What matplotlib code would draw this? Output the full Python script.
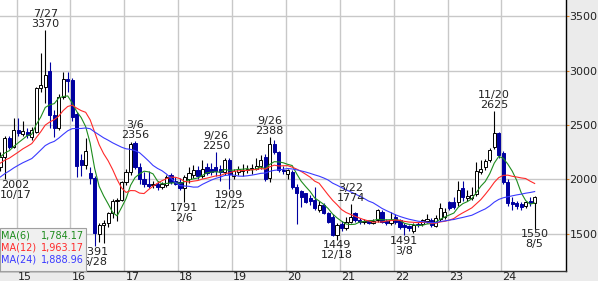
import numpy as np
import pandas as pd
import matplotlib
matplotlib.use("Agg")
import matplotlib.pyplot as plt
from matplotlib.patches import Rectangle
import matplotlib.transforms as mtransforms

# monthly candles, Sep 2014 .. Aug 2024
months = pd.period_range("2014-09", "2024-08", freq="M")

opens = [2110, 2210, 2378, 2301,
         2454, 2420, 2440, 2393, 2440, 2837, 2851, 2998, 2590, 2470, 2760, 2920,
         2910, 2600, 2180, 2133, 2060, 2013, 1500, 1580, 1600, 1690, 1800, 1812,
         1975, 2072, 2335, 2118, 2000, 1960, 1945, 1960, 1935, 1950, 2040, 1990,
         1980, 1920, 2000, 2040, 2090, 2030, 2110, 2100, 2110, 2100, 2070, 2180,
         2030, 2070, 2080, 2090, 2095, 2100, 2120, 2210, 2010, 2330, 2250, 2090,
         2050, 2070, 1935, 1890, 1873, 1830, 1812, 1720, 1766, 1690, 1660, 1492,
         1590, 1555, 1614, 1690, 1630, 1610, 1620, 1605, 1630, 1700, 1620, 1600,
         1660, 1630, 1584, 1570, 1525, 1590, 1590, 1620, 1630, 1575, 1640, 1660,
         1790, 1790, 1790, 1920, 1830, 1830, 1870, 2070, 2110, 2180, 2296, 2430,
         2240, 1980, 1790, 1785, 1775, 1755, 1800, 1781]
highs = [2250, 2400, 2400, 2561,
         2561, 2540, 2470, 2480, 2850, 3158, 3370, 3081, 2640, 2780, 2990, 2990,
         2930, 2620, 2230, 2380, 2110, 2030, 1600, 1630, 1700, 1820, 1830, 1990,
         2100, 2340, 2356, 2150, 2072, 2080, 1990, 1990, 1980, 2040, 2060, 2020,
         2010, 2040, 2110, 2130, 2120, 2180, 2150, 2150, 2250, 2130, 2200, 2200,
         2100, 2120, 2140, 2130, 2140, 2194, 2225, 2230, 2388, 2360, 2260, 2120,
         2100, 2090, 1960, 1904, 1880, 1860, 1935, 1800, 1780, 1700, 1680, 1600,
         1620, 1660, 1774, 1700, 1650, 1640, 1630, 1640, 1730, 1720, 1640, 1700,
         1680, 1640, 1600, 1580, 1600, 1610, 1640, 1680, 1650, 1670, 1780, 1740,
         1800, 1840, 1990, 1990, 1900, 1930, 2164, 2180, 2190, 2290, 2625, 2440,
         2260, 2000, 1840, 1800, 1790, 1800, 1840, 1850]
lows = [2080, 2002, 2280, 2290,
        2400, 2400, 2380, 2360, 2430, 2800, 2700, 2470, 2390, 2450, 2740, 2800,
        2540, 2020, 2030, 2100, 1960, 1391, 1430, 1415, 1560, 1650, 1620, 1800,
        1950, 2040, 2100, 1960, 1930, 1920, 1920, 1900, 1910, 1930, 1960, 1950,
        1900, 1791, 1970, 2010, 2000, 2010, 2040, 2040, 2030, 1990, 2040, 1909,
        2000, 2040, 2030, 2060, 2050, 2090, 2100, 1990, 1980, 2230, 2070, 2050,
        2000, 1910, 1590, 1750, 1780, 1770, 1720, 1700, 1680, 1600, 1480, 1449,
        1530, 1540, 1600, 1610, 1590, 1595, 1590, 1590, 1610, 1600, 1580, 1580,
        1590, 1550, 1491, 1530, 1510, 1560, 1570, 1600, 1560, 1560, 1620, 1640,
        1720, 1730, 1760, 1800, 1800, 1810, 1850, 2050, 2090, 2160, 2280, 2200,
        1960, 1760, 1720, 1730, 1720, 1740, 1760, 1550]
closes = [2210, 2378, 2301, 2454,
          2430, 2445, 2408, 2450, 2837, 2867, 2959, 2592, 2470, 2760, 2920, 2900,
          2570, 2124, 2133, 2264, 2010, 1509, 1583, 1600, 1690, 1800, 1812, 1975,
          2072, 2330, 2118, 2000, 1960, 1940, 1960, 1935, 1960, 2026, 1980, 1960,
          1919, 2026, 2060, 2090, 2030, 2100, 2060, 2065, 2075, 2070, 2180, 2050,
          2075, 2100, 2090, 2100, 2105, 2120, 2175, 2000, 2330, 2250, 2090, 2075,
          2087, 1935, 1873, 1843, 1797, 1800, 1735, 1766, 1690, 1614, 1492, 1584,
          1555, 1614, 1660, 1630, 1610, 1620, 1605, 1615, 1720, 1614, 1600, 1630,
          1614, 1568, 1560, 1555, 1584, 1580, 1630, 1640, 1580, 1645, 1740, 1700,
          1740, 1745, 1904, 1840, 1850, 1858, 2080, 2095, 2166, 2271, 2430, 2225,
          1980, 1781, 1775, 1760, 1750, 1790, 1787, 1843]
# closes before the first visible month (only feed the moving averages)
warmup_closes = [1650, 1700, 1780, 1850, 1900, 1950, 1980, 1920, 1900, 1985,
                 2040, 2097, 2050, 2080, 2120, 2100, 2090, 2124, 2150, 2180,
                 2220, 2226, 2250]

ma_periods = [6, 12, 24]
ma_colors = ["#1e8c1e", "#ff2a2a", "#3a3aff"]

# high / low call-outs: month, date text, kind
ann_months = ["2014-10", "2015-07", "2016-06", "2017-03", "2018-02", "2018-09",
              "2018-12", "2019-09", "2020-12", "2021-03", "2022-03", "2023-11",
              "2024-08"]
ann_dates = ["10/17", "7/27", "6/28", "3/6", "2/6", "9/26",
             "12/25", "9/26", "12/18", "3/22", "3/8", "11/20", "8/5"]
ann_kind = ["low", "high", "low", "high", "low", "high",
            "low", "high", "low", "high", "low", "high", "low"]

years = ["15", "16", "17", "18", "19", "20", "21", "22", "23", "24"]
yticks = [1500, 2000, 2500, 3000, 3500]

# ---------------------------------------------------------------------------
o = np.array(opens); h = np.array(highs); l = np.array(lows); c = np.array(closes)
x = np.arange(len(months)) - 4          # 0 = Jan 2015
up = c >= o
down_col = "#0000a0"

fig = plt.figure(figsize=(5.98, 2.81), dpi=100, facecolor="#ebebeb")
ax = fig.add_axes([0, 10 / 281, 566 / 598, 271 / 281])
ax.set_facecolor("white")

# wicks
ax.vlines(x[up], l[up], h[up], color="black", lw=0.8, zorder=2)
ax.vlines(x[~up], l[~up], h[~up], color=down_col, lw=0.8, zorder=2)
# bodies
body_lo = np.minimum(o, c)
body_h = np.abs(c - o)
ax.bar(x[up], body_h[up], bottom=body_lo[up], width=0.72, color="white",
       edgecolor="black", linewidth=0.7, zorder=3)
ax.bar(x[~up], body_h[~up], bottom=body_lo[~up], width=0.72, color=down_col,
       edgecolor=down_col, linewidth=0.7, zorder=3)

# moving averages
all_close = pd.Series(warmup_closes + closes)
n_warm = len(warmup_closes)
ma_last = []
for p, col in zip(ma_periods, ma_colors):
    ma = all_close.rolling(p, min_periods=1).mean().to_numpy()[n_warm:]
    ax.plot(x, ma, color=col, lw=0.8, zorder=4)
    ma_last.append(ma[-1])

xmin, xmax = -4.08, 121.98
ax.set_xlim(xmin, xmax)
ax.set_ylim(1160, 3647)

# grid
grid_x = [12 * k - 0.4 for k in range(len(years))]
for gx in grid_x:
    ax.axvline(gx, color="#c8c8c8", lw=1, zorder=0)
for gy in yticks:
    ax.axhline(gy, color="#c8c8c8", lw=1, zorder=0)

# axes cosmetics
for s in ["left", "top"]:
    ax.spines[s].set_visible(False)
ax.spines["right"].set_color("black")
ax.spines["right"].set_linewidth(1)
ax.spines["bottom"].set_color("#333333")
ax.spines["bottom"].set_linewidth(1)
ax.set_xticks([])
ax.yaxis.tick_right()
ax.set_yticks(yticks)
ax.set_yticklabels([str(v) for v in yticks])
ax.tick_params(axis="y", length=2, color="#e08020", pad=0.5,
               labelsize=8, labelcolor="#222222")

trans = mtransforms.blended_transform_factory(ax.transData, ax.transAxes)
for gx, yr in zip(grid_x, years):
    ax.text(gx + 0.25, -0.021, yr, transform=trans, ha="left", va="center",
            fontsize=8, color="#222222", clip_on=False)

# call-outs
month_str = [str(m) for m in months]
for m, d, k in zip(ann_months, ann_dates, ann_kind):
    i = month_str.index(m)
    xi = max(x[i], -0.6)
    if k == "high":
        ax.text(xi, h[i] + 8, d + "\n" + str(h[i]), ha="center", va="bottom",
                fontsize=8, color="#222222", linespacing=1.0, zorder=5)
    else:
        ax.text(xi, l[i] - 8, str(l[i]) + "\n" + d, ha="center", va="top",
                fontsize=8, color="#222222", linespacing=1.0, zorder=5)

# MA legend box
box_h = (271 - 228) / 271
ax.add_patch(Rectangle((0, 0), 86 / 566, box_h, transform=ax.transAxes,
                       facecolor="#f0f0f0", edgecolor="#a0a0a0", lw=0.8,
                       zorder=6, clip_on=False))
row_y = [236, 248, 260]
for p, col, val, ry in zip(ma_periods, ma_colors, ma_last, row_y):
    yy = (271 - ry) / 271
    ax.text(1 / 566, yy, "MA(%d)" % p, transform=ax.transAxes, ha="left",
            va="center", fontsize=7, color=col, zorder=7)
    ax.text(84 / 566, yy, "{:,.2f}".format(val), transform=ax.transAxes,
            ha="right", va="center", fontsize=7, color=col, zorder=7)

fig.savefig("out.png", dpi=100, facecolor=fig.get_facecolor())
